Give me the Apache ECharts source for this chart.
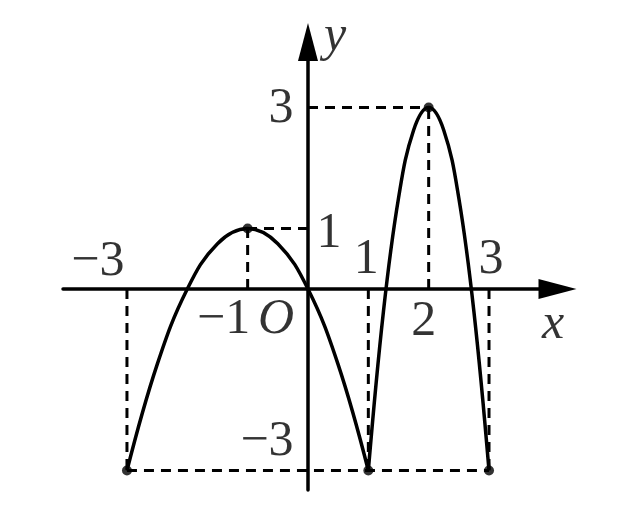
<!DOCTYPE html>
<html>
<head>
<meta charset="utf-8">
<script src="https://cdn.jsdelivr.net/npm/echarts@6/dist/echarts.min.js"></script>
<style>
  html, body { margin: 0; padding: 0; background: #fff; }
  #chart { width: 633px; height: 529px; }
</style>
</head>
<body>
<div id="chart"></div>
<script>
// curve readings (x, y) off the picture
const leftX = [-3, -2.5, -2, -1.5, -1, -0.5, 0, 0.5, 1];
const leftY = [-3, -1.25, 0, 0.75, 1, 0.75, 0, -1.25, -3];
const rightX = [1, 1.25, 1.5, 1.75, 2, 2.25, 2.5, 2.75, 3];
const rightY = [-3, -0.375, 1.5, 2.625, 3, 2.625, 1.5, -0.375, -3];

// marked points, also the ends of the dashed guides
const dotX = [-3, -1, 1, 2, 3];
const dotY = [-3, 1, -3, 3, -3];

// tick labels
const xTickValues = [-3, -1, 1, 2, 3];
const xTickLabels = ['−3', '−1', '1', '2', '3'];
const yTickValues = [1, 3, -3];
const yTickLabels = ['1', '3', '−3'];

const zip = (xs, ys) => xs.map((x, i) => [x, ys[i]]);

// dashed guides: vertical to the x axis, horizontal to the y axis
const guides = () => {
    const out = [];
    dotX.forEach((x, i) => {
        out.push([x, 0], [x, dotY[i]], '-');
        if (dotY[i] > 0) {
            out.push([0, dotY[i]], [x, dotY[i]], '-');
        }
    });
    out.push([Math.min(...dotX), -3], [Math.max(...dotX), -3]);
    return out;
};

// label offsets in px from their anchor
const xLabelOffset = {'−3': [-29, -27], '−1': [-24, 31], '1': [-2, -29], '2': [-5, 33], '3': [2, -29]};
const yLabelOffset = {'1': [21, 5], '3': [-27, 1], '−3': [-41, -29]};

const font = '"Liberation Serif", "DejaVu Serif", serif';
const txt = {fontFamily: font, fontSize: 50, color: '#000'};

const labelData = [].concat(
    xTickValues.map((v, i) => ({
        value: [v, 0],
        label: {formatter: xTickLabels[i], offset: xLabelOffset[xTickLabels[i]]}
    })),
    yTickValues.map((v, i) => ({
        value: [0, v],
        label: {formatter: yTickLabels[i], offset: yLabelOffset[yTickLabels[i]]}
    })),
    [
        {value: [0, 0], label: {formatter: 'O', offset: [-32, 31], fontStyle: 'italic'}},
        {value: [0, 0], label: {formatter: 'x', offset: [245, 36], fontStyle: 'italic'}},
        {value: [0, 0], label: {formatter: 'y', offset: [27, -252], fontStyle: 'italic'}}
    ]
);

const axisCommon = {
    type: 'value',
    splitLine: {show: false},
    axisTick: {show: false},
    axisLabel: {show: false},
    axisLine: {
        onZero: true,
        symbol: ['none', 'triangle'],
        symbolSize: [20, 38],
        lineStyle: {color: '#000', width: 3.5}
    }
};

const chart = echarts.init(document.getElementById('chart'));

chart.setOption({
    animation: false,
    backgroundColor: '#fff',
    grid: {left: 63, right: 75.5, top: 42, bottom: 39},
    xAxis: {...axisCommon, min: -4.06, max: 4.135},
    yAxis: {...axisCommon, min: -3.322, max: 4.083},
    series: [
        {
            type: 'line',
            data: guides(),
            symbol: 'none',
            connectNulls: false,
            lineStyle: {color: '#000', width: 3, type: [10, 7]},
            z: 2
        },
        {
            type: 'line',
            data: zip(leftX, leftY),
            smooth: 0.4,
            symbol: 'none',
            lineStyle: {color: '#000', width: 3.5},
            z: 3
        },
        {
            type: 'line',
            data: zip(rightX, rightY),
            smooth: 0.4,
            symbol: 'none',
            lineStyle: {color: '#000', width: 3.5},
            z: 3
        },
        {
            type: 'scatter',
            data: zip(dotX, dotY),
            symbolSize: 10,
            itemStyle: {color: '#000'},
            z: 4
        },
        {
            type: 'scatter',
            data: labelData,
            symbolSize: 0,
            silent: true,
            label: {show: true, position: 'inside', ...txt},
            z: 5
        }
    ]
});
</script>
</body>
</html>
